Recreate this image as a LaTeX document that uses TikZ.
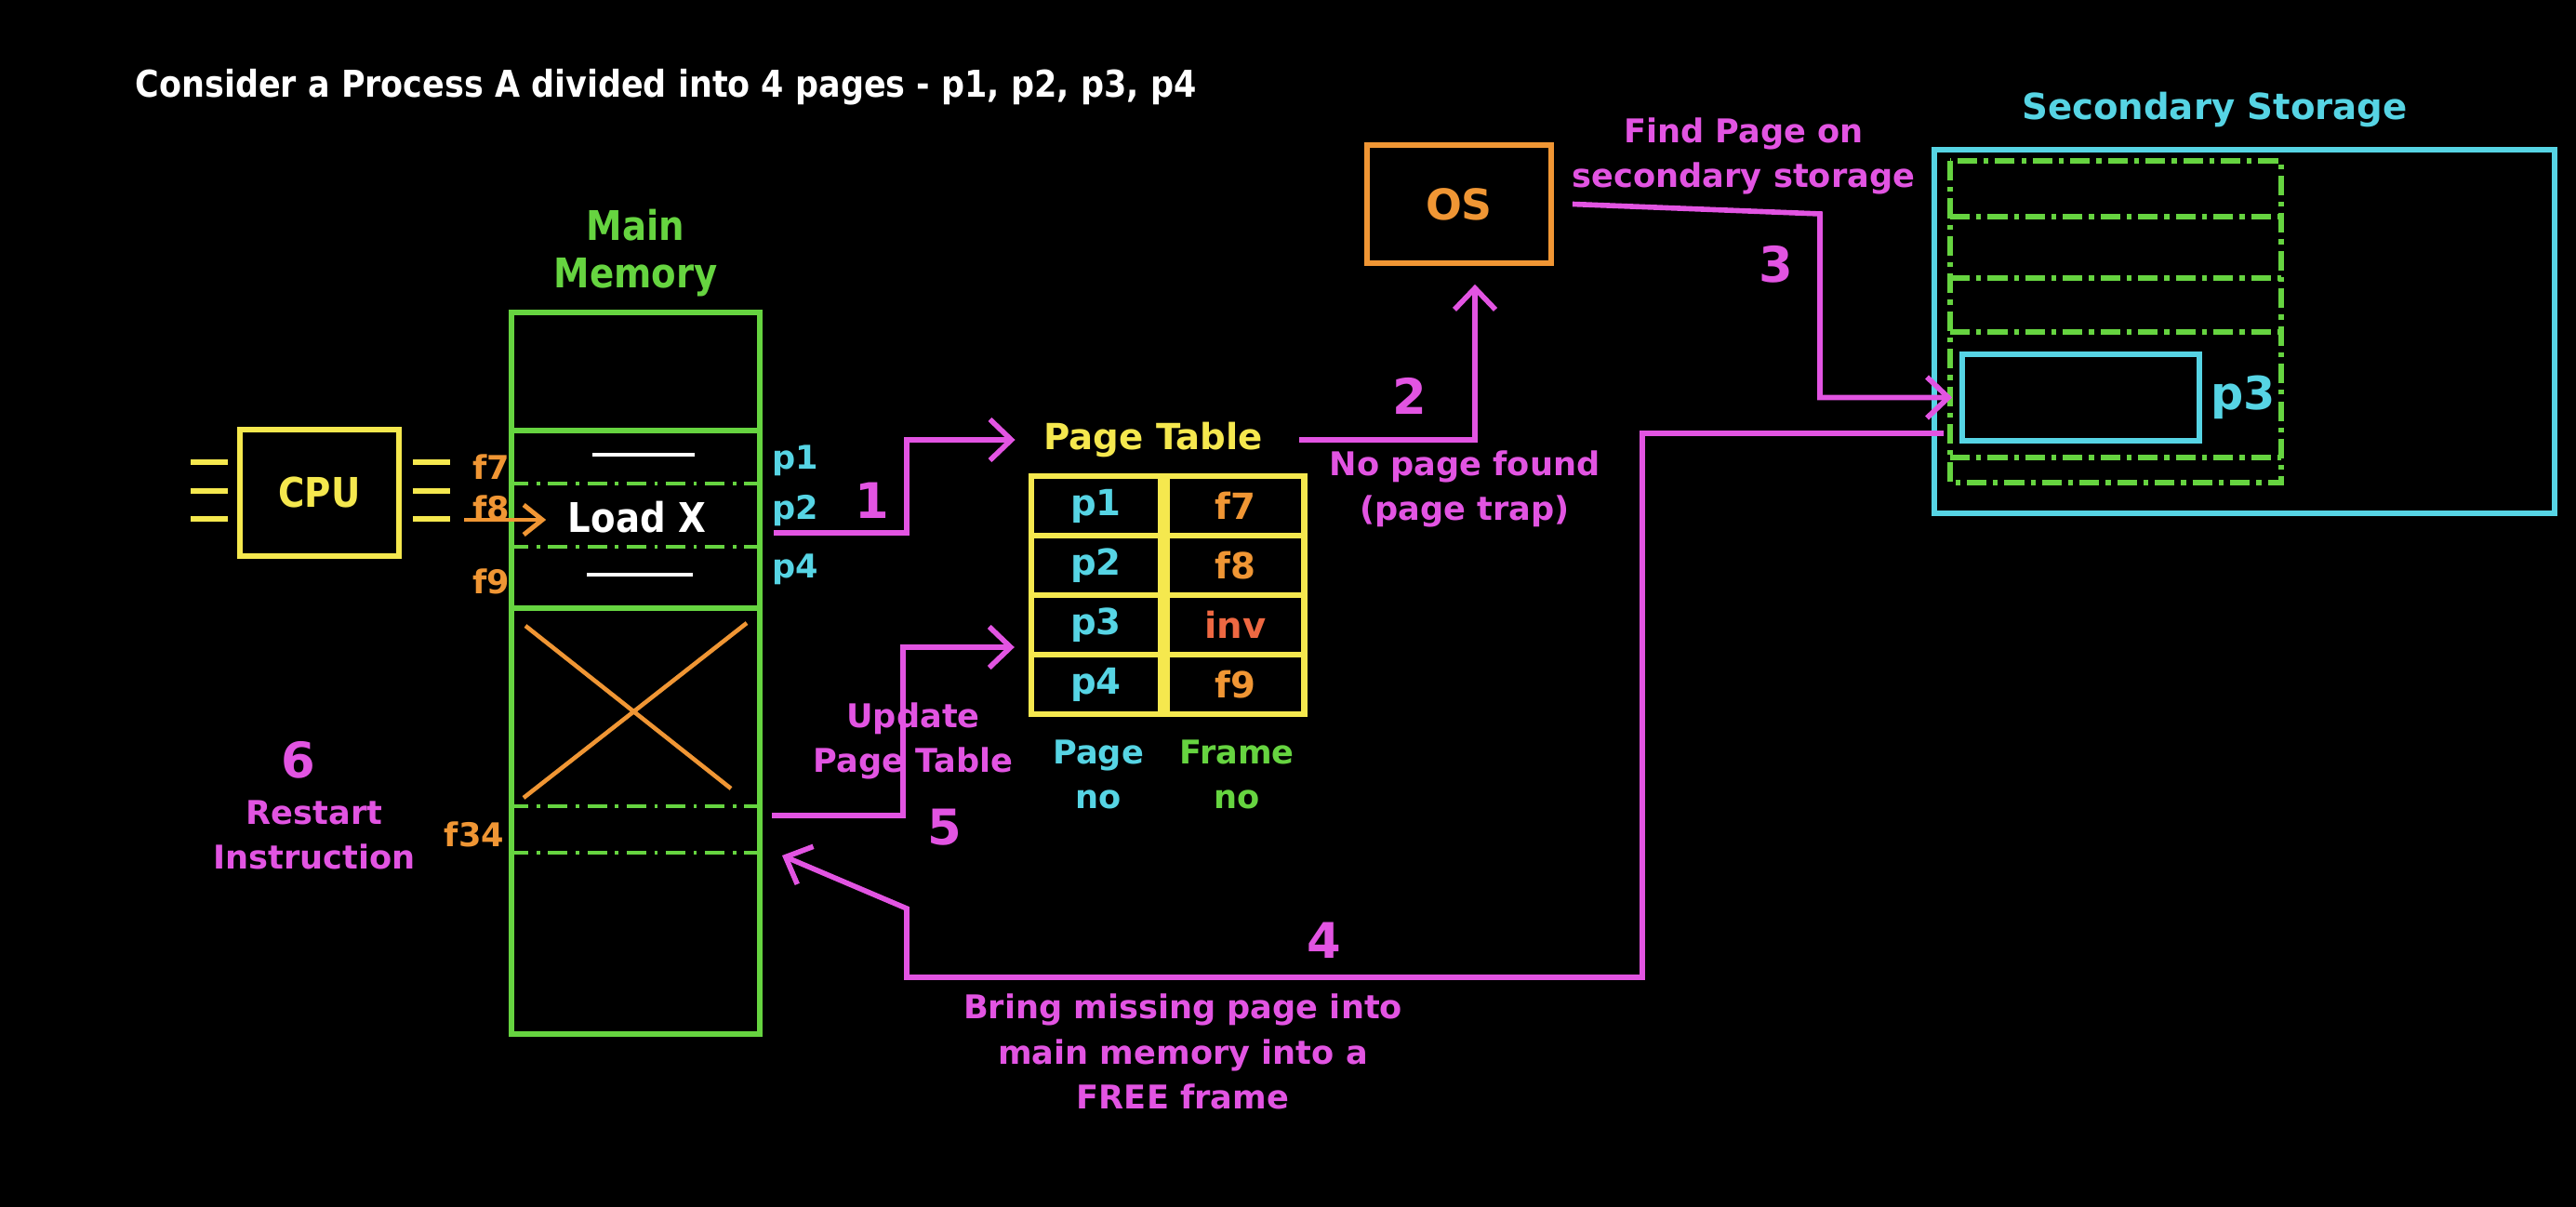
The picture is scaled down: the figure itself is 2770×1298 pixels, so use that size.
\documentclass[tikz,border=0pt]{standalone}
\usepackage{fontspec}
\setmainfont{DejaVu Sans}
\newfontfamily\tallfont{DejaVu Sans}[FakeStretch=0.88]
\usepackage{xcolor}
\usepackage{tikz}
\usetikzlibrary{arrows.meta,positioning,calc}

\definecolor{stepcol}{RGB}{226,84,226}
\definecolor{memcol}{RGB}{102,212,64}
\definecolor{pagecol}{RGB}{86,212,228}
\definecolor{ptcol}{RGB}{245,232,78}
\definecolor{framecol}{RGB}{240,150,52}
\definecolor{invcol}{RGB}{238,104,66}

\begin{document}
\begin{tikzpicture}[
  x=0.01cm, y=-0.01cm,
  txt/.style={inner sep=0pt, align=center, font=\fontsize{10}{13.8}\selectfont\bfseries},
  big/.style={inner sep=0pt, align=center, font=\fontsize{11}{14.5}\selectfont\bfseries},
  tall/.style={inner sep=0pt, align=center, font=\tallfont\fontsize{12.5}{14.5}\selectfont\bfseries},
  steplbl/.style={txt, text=stepcol},
  stepnum/.style={inner sep=0pt, font=\fontsize{15}{18}\selectfont\bfseries, text=stepcol},
  flow/.style={draw=stepcol, line width=1.6pt, -{Straight Barb[length=2.3mm, width=4.4mm]}},
  ldarrow/.style={draw=framecol, line width=1.4pt, -{Straight Barb[length=2mm, width=3.2mm]}},
  cell/.style={big, draw=ptcol, line width=1.8pt, minimum height=0.64cm},
  box/.style={draw, line width=1.6pt, inner sep=0pt},
  memline/.style={draw=memcol, line width=1.1pt, dash pattern=on 6pt off 2.5pt on 1pt off 2.5pt},
  ssdash/.style={draw=memcol, line width=1.6pt, dash pattern=on 6pt off 2pt on 1.5pt off 2pt},
]
\fill[black] (0,0) rectangle (2770,1298);

\node[anchor=west, inner sep=0pt, font=\tallfont\fontsize{11.3}{13}\selectfont\bfseries, text=white] (title) at (145,94) {Consider a Process A divided into 4 pages - p1, p2, p3, p4};

% CPU
\node[box, draw=ptcol, minimum width=1.71cm, minimum height=1.36cm, tall, text=ptcol] (cpu) at (343.5,530) {CPU};
\foreach \dy in {-33,-2,28} {
  \draw[ptcol, line width=1.6pt] ([shift={(-50,\dy)}]cpu.west) -- ++(40,0);
  \draw[ptcol, line width=1.6pt] ([shift={(12,\dy)}]cpu.east) -- ++(40,0);
}

% main memory
\node[box, draw=memcol, minimum width=2.67cm, minimum height=7.76cm] (mm) at (683.5,724) {};
\node[tall, text=memcol, above=0.13cm of mm] (mmlbl) {Main\\Memory};
\foreach \ly in {463,654}
  \draw[memcol, line width=1.6pt] (mm.west |- 0,\ly) -- (mm.east |- 0,\ly);
\foreach \ly in {520,588,867,917}
  \draw[memline] (mm.west |- 0,\ly) -- (mm.east |- 0,\ly);
\draw[white, line width=1.3pt] (637,489) -- (747,489) (631,618) -- (745,618);
\draw[framecol, line width=1.3pt] (565,673) -- (786,848) (803,670) -- (563,858);

\node[tall, text=white] (loadx) at (685,556) {Load X};
\node[txt, text=framecol] (f7) at (528,502) {f7};
\node[txt, text=framecol] (f8) at (528,546) {f8};
\node[txt, text=framecol] (f9) at (528,625) {f9};
\node[txt, text=framecol] (f34) at (510,897) {f34};
\node[txt, text=pagecol] (p1) at (855,495) {p1};
\node[txt, text=pagecol] (p2) at (855,549) {p2};
\node[txt, text=pagecol] (p4) at (855,612) {p4};
\coordinate (ldst) at (499,559);
\draw[ldarrow, shorten >=2.3mm] (ldst) -- (ldst -| loadx.west);

% page table
\node[big, text=ptcol] (pt) at (1240,473) {Page Table};
\foreach \pg/\fr/\fc [count=\i] in {p1/f7/framecol, p2/f8/framecol, p3/inv/invcol, p4/f9/framecol} {
  \node[cell, minimum width=1.39cm, text=pagecol] (pg\i) at (1178.5,{512+64*(\i-0.5)}) {\pg};
  \node[cell, minimum width=1.48cm, text=\fc, right=0pt of pg\i] (fr\i) {\fr};
}
\node[txt, text=pagecol] (pgno) at (1181,833) {Page\\no};
\node[txt, text=memcol] (frno) at (1330,833) {Frame\\no};

% OS and secondary storage
\node[box, draw=framecol, minimum width=1.98cm, minimum height=1.27cm, font=\fontsize{13}{15}\selectfont\bfseries, text=framecol] (os) at (1569,219.5) {OS};
\node[box, draw=pagecol, minimum width=6.67cm, minimum height=3.91cm] (ss) at (2413.5,356.5) {};
\node[big, text=pagecol, above=0.2cm of ss, xshift=-0.32cm] (sslbl) {Secondary Storage};
\draw[ssdash] (2097,173) rectangle (2453,519);
\foreach \ly in {233,299,357,492}
  \draw[ssdash] (2097,\ly) -- (2453,\ly);
\node[box, draw=pagecol, minimum width=2.55cm, minimum height=0.93cm] (p3box) at (2237.5,427.5) {};
\node[inner sep=0pt, font=\fontsize{14}{16}\selectfont\bfseries, text=pagecol, right=0.09cm of p3box] (p3lbl) {p3};

% steps
\node[stepnum] (n1) at (938,538) {1};
\node[stepnum] (n2) at (1516,426) {2};
\node[stepnum] (n3) at (1910,284) {3};
\node[stepnum] (n4) at (1424,1011) {4};
\node[stepnum] (n5) at (1016,890) {5};
\node[stepnum] (n6) at (321,817) {6};
\node[steplbl] (trap) at (1575,526) {No page found\\(page trap)};
\node[steplbl] (find) at (1875,168) {Find Page on\\secondary storage};
\node[steplbl] (upd) at (982,797) {Update\\Page Table};
\node[steplbl] (bring) at (1272,1131) {Bring missing page into\\main memory into a\\FREE frame};
\node[steplbl] (restart) at (338,898) {Restart\\Instruction};

\coordinate (a1s) at (832,573);
\coordinate (a3k) at (1957,230);
\coordinate (a4s) at (2090,466);
\coordinate (a4e) at (841,920);
\coordinate (a5s) at (830,877);
\draw[flow, shorten >=3mm] (a1s) -- ++(143,0) |- (pt.west);
\draw[flow, shorten >=2mm] ([xshift=3.9mm]pt.east) -| ([xshift=1.7mm]os.south);
\draw[flow, shorten >=0.8mm] ([xshift=2mm]os.east) -- (a3k) |- (p3box.west);
\draw[flow] (a4s) -| (1766,1051) -| (975,977) -- (a4e);
\draw[flow] (a5s) -- ++(141,0) |- ([shift={(-15,24)}]pg3.west);

\end{tikzpicture}
\end{document}
